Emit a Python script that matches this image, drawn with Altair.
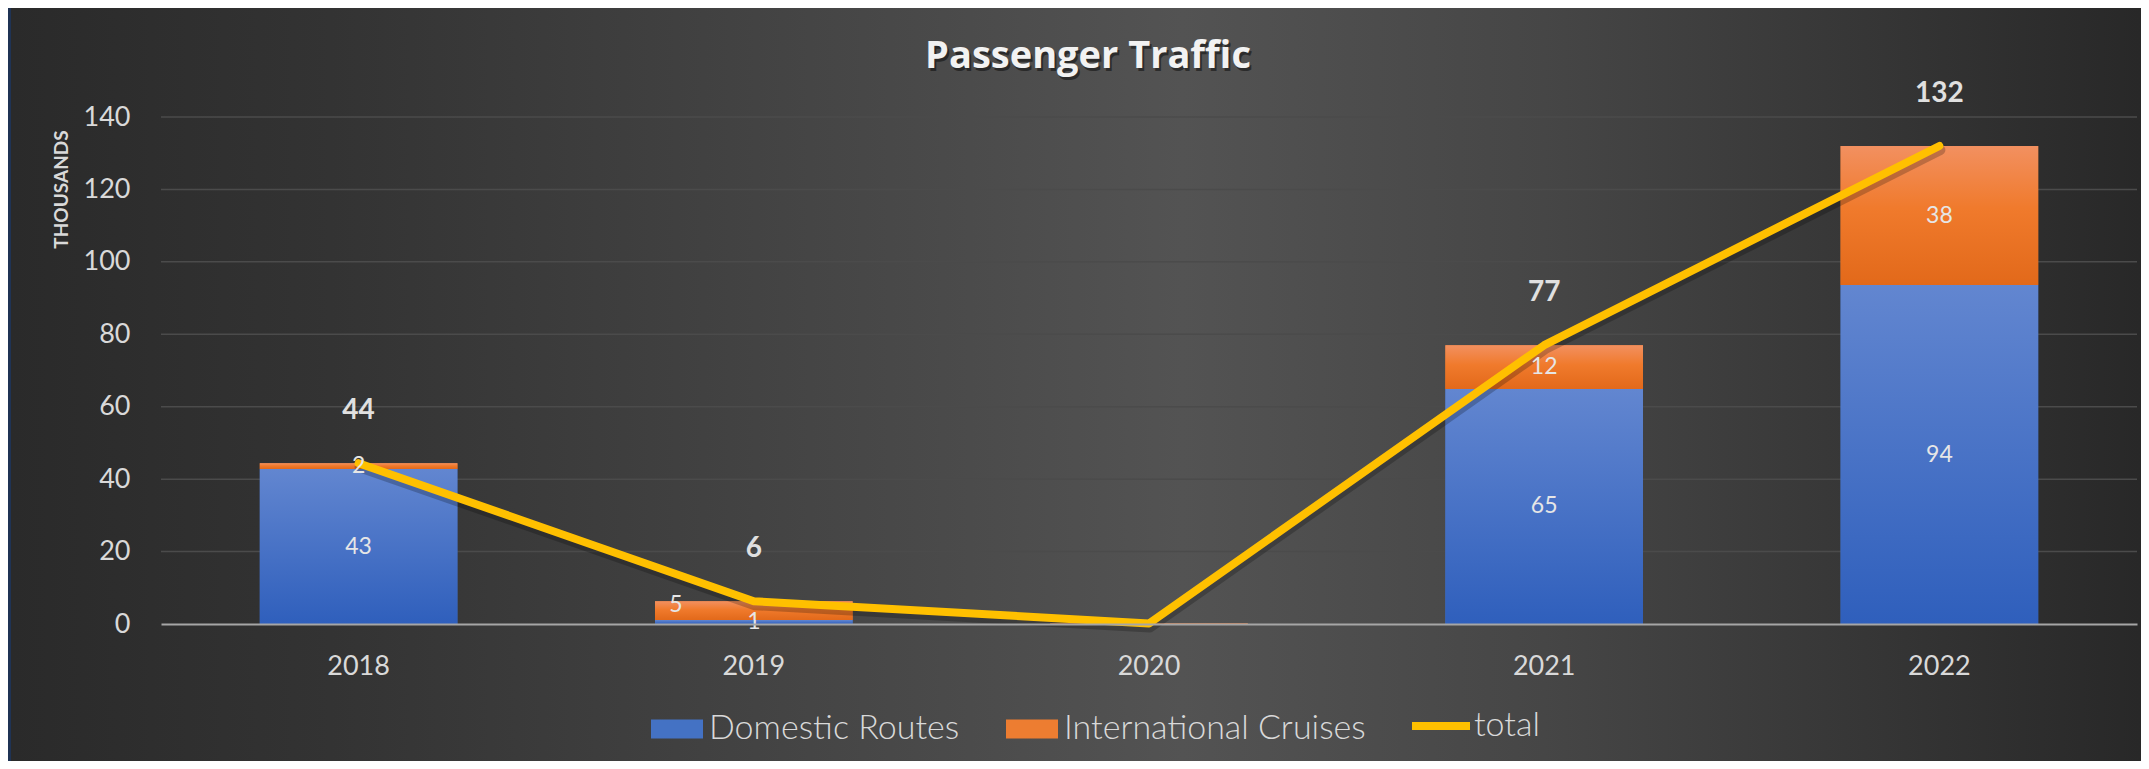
import altair as alt
import pandas as pd

# ---- data ----
years = ["2018", "2019", "2020", "2021", "2022"]
series = ["Domestic Routes", "International Cruises"]
domestic = [42.8, 1.1, 0.0, 64.9, 93.6]
international = [1.6, 5.2, 0.15, 12.1, 38.4]
total = [44.4, 6.3, 0.15, 77.0, 132.0]
y_ticks = [0, 20, 40, 60, 80, 100, 120, 140]

rows = []
for i, yr in enumerate(years):
    rows.append({"year": yr, "series": series[0], "value": domestic[i], "order": 0})
    rows.append({"year": yr, "series": series[1], "value": international[i], "order": 1})
bars_df = pd.DataFrame(rows)
tot_df = pd.DataFrame({"year": years, "total": total, "s": ["total"] * len(years)})
grid_df = pd.DataFrame({"v": y_ticks[1:]})
one_df = pd.DataFrame({"k": [0]})

# ---- layout ----
W, H = 1976, 507
PAD = {"left": 153, "top": 109, "right": 4, "bottom": 137}

FONT = "Lato"
LABEL_COLOR = "#d9d9d9"

x_scale = alt.Scale(domain=years, paddingInner=0.5, paddingOuter=0.25)
y_scale = alt.Scale(domain=[0, 140], nice=False)

x_axis = alt.Axis(title=None, labelAngle=0, labelFont=FONT, labelFontSize=27,
                  labelColor=LABEL_COLOR, labelPadding=29, ticks=False,
                  domain=True, domainColor="#a6a6a6", domainWidth=2, grid=False,
                  zindex=1)
y_axis = alt.Axis(title="THOUSANDS", values=y_ticks, grid=False, domain=False,
                  ticks=False, labelFont=FONT, labelFontSize=27,
                  labelColor=LABEL_COLOR, labelPadding=31,
                  titleFont=FONT, titleFontSize=19, titleFontWeight="bold",
                  titleColor=LABEL_COLOR, titleAngle=270, titleX=-100, titleY=72,
                  titleAlign="center", titleBaseline="middle", zindex=1)


def X():
    return alt.X("year:N", scale=x_scale, axis=x_axis, sort=years)


def Y(field):
    return alt.Y(field, scale=y_scale, axis=y_axis)


def grad(stops, vertical=True):
    return alt.LinearGradient(
        gradient="linear",
        stops=[alt.GradientStop(color=c, offset=o) for o, c in stops],
        x1=0, y1=0, x2=0 if vertical else 1, y2=1 if vertical else 0)


bg_grad = grad([(0, "#2a2a2a"), (0.15, "#333333"), (0.35, "#434343"),
                (0.55, "#535353"), (0.72, "#464646"), (0.88, "#353535"),
                (1, "#282828")], vertical=False)
blue_grad = grad([(0, "#6286d0"), (1, "#2f5fbc")])
orange_grad = grad([(0, "#f29060"), (0.45, "#f07a2c"), (1, "#e2691a")])

background = alt.Chart(one_df).mark_rect(fill=bg_grad).encode(
    x=alt.value(-150), x2=alt.value(W + 4), y=alt.value(-109), y2=alt.value(H + 137))

gridlines = alt.Chart(grid_df).mark_rule(color="#4b4b4b", strokeWidth=1.5).encode(
    y=Y("v:Q"))

base = alt.Chart(bars_df).transform_stack(
    stack="value", groupby=["year"], as_=["y0", "y1"],
    sort=[alt.SortField("order", "ascending")])

bars_solid = base.mark_bar().encode(
    x=X(),
    y=Y("y0:Q"),
    y2="y1:Q",
    color=alt.Color("series:N",
                    scale=alt.Scale(domain=series, range=["#4472C4", "#ED7D31"]),
                    legend=alt.Legend(title=None, orient="none", legendX=490, legendY=586,
                                      direction="horizontal",
                                      symbolType="M-1,-0.365H1V0.365H-1Z",
                                      symbolSize=2704, symbolStrokeWidth=0,
                                      labelFont=FONT, labelFontSize=34, labelFontWeight=300,
                                      labelColor=LABEL_COLOR, labelOffset=6,
                                      columnPadding=46, padding=0, labelLimit=0)),
)

bars_blue = base.transform_filter(alt.datum.series == series[0]).mark_bar(fill=blue_grad).encode(
    x=X(), y=Y("y0:Q"), y2="y1:Q")
bars_orange = base.transform_filter(alt.datum.series == series[1]).mark_bar(fill=orange_grad).encode(
    x=X(), y=Y("y0:Q"), y2="y1:Q")

line_shadow = alt.Chart(tot_df).mark_line(
    strokeWidth=10, strokeCap="round", strokeJoin="round", color="#000000",
    opacity=0.22, yOffset=4, xOffset=1).encode(x=X(), y=Y("total:Q"))

line = alt.Chart(tot_df).mark_line(strokeWidth=8, strokeCap="round", strokeJoin="round").encode(
    x=X(),
    y=Y("total:Q"),
    stroke=alt.Stroke("s:N", scale=alt.Scale(domain=["total"], range=["#FFC000"]),
                      legend=alt.Legend(title=None, orient="none", legendX=1247, legendY=576,
                                        symbolType="stroke", symbolSize=3364,
                                        symbolStrokeWidth=8,
                                        labelFont=FONT, labelFontSize=34, labelFontWeight=300,
                                        labelColor=LABEL_COLOR, labelOffset=0,
                                        padding=0, labelLimit=0)),
)

seg_text = dict(font=FONT, fontSize=23, color="#e6e6e6", baseline="middle")
seg_base = base.transform_calculate(mid="(datum.y0 + datum.y1) / 2")

# labels centred in their segment
seg_labels = seg_base.transform_filter(
    (alt.datum.value >= 0.5) & ((alt.datum.series == series[0]) | (alt.datum.value >= 8))
).mark_text(**seg_text).encode(
    x=X(), y=Y("mid:Q"), text=alt.Text("value:Q", format=".0f"))

# label of a thin upper segment, set aside to the left as in the original
seg_labels_small = seg_base.transform_filter(
    (alt.datum.value >= 0.5) & (alt.datum.series == series[1]) & (alt.datum.value < 8)
    & (alt.datum.year != years[0])
).mark_text(dx=-78, dy=-6, **seg_text).encode(
    x=X(), y=Y("mid:Q"), text=alt.Text("value:Q", format=".0f"))

# thin upper segment of the first bar keeps its centred label
seg_labels_first = seg_base.transform_filter(
    (alt.datum.value >= 0.5) & (alt.datum.series == series[1]) & (alt.datum.value < 8)
    & (alt.datum.year == years[0])
).mark_text(**seg_text).encode(
    x=X(), y=Y("mid:Q"), text=alt.Text("value:Q", format=".0f"))

tot_labels = alt.Chart(tot_df).transform_filter(alt.datum.total >= 1).mark_text(
    font=FONT, fontSize=28, fontWeight="bold", color="#e0e0e0", baseline="middle",
    dy=-52).encode(
    x=X(), y=Y("total:Q"), text=alt.Text("total:Q", format=".0f"))

title_shadow = alt.Chart(one_df).mark_text(
    text="Passenger Traffic", font="Open Sans", fontSize=38, fontWeight="bold",
    color="#000000", opacity=0.45, align="center", baseline="alphabetic").encode(
    x=alt.value(927 + 2), y=alt.value(-49 + 3))
title = alt.Chart(one_df).mark_text(
    text="Passenger Traffic", font="Open Sans", fontSize=38, fontWeight="bold",
    color="#f2f2f2", align="center", baseline="alphabetic").encode(
    x=alt.value(927), y=alt.value(-49))

chart = alt.layer(
    background, gridlines, bars_solid, bars_blue, bars_orange, line_shadow, line,
    seg_labels, seg_labels_small, seg_labels_first, tot_labels, title_shadow, title
).properties(
    width=W, height=H,
    autosize=alt.AutoSizeParams(type="none"),
    padding=PAD,
    background="#1f3354",
).configure_view(stroke=None)

chart.save("out.html", embed_options={"renderer": "svg", "actions": False})
